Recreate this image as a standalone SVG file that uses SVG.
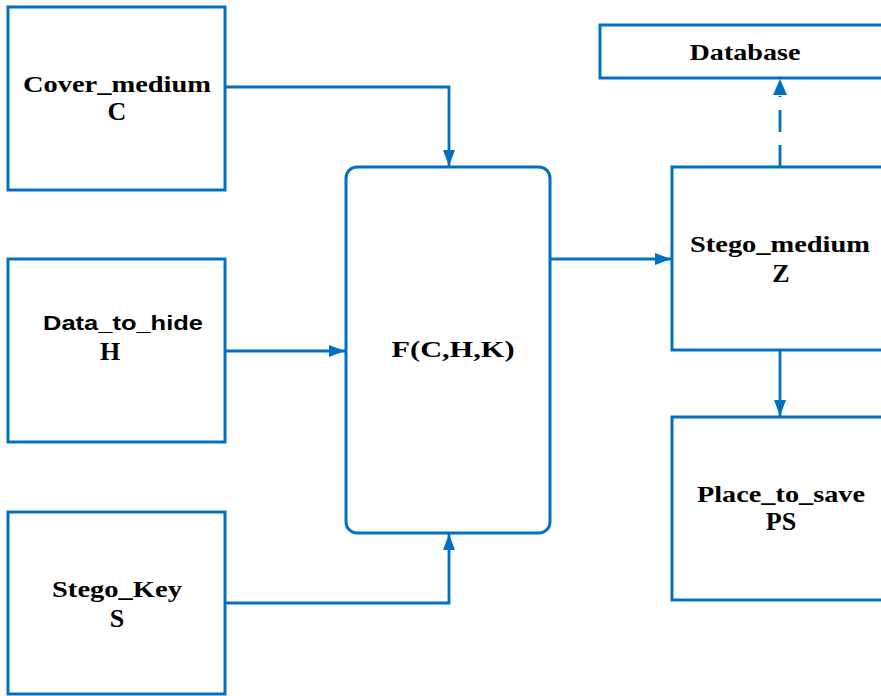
<svg xmlns="http://www.w3.org/2000/svg" width="881" height="696" viewBox="0 0 881 696">
<style>
.box{fill:#fff;stroke:#0070C0;stroke-width:3}
.con{fill:none;stroke:#0070C0;stroke-width:2.8}
.t{font-family:"Liberation Serif","Times New Roman",serif;font-weight:bold;font-size:24px;fill:#000;text-anchor:middle}
.l{font-size:26px}
.s{font-family:"Liberation Sans",Arial,sans-serif;font-weight:bold;font-size:21px;fill:#000;text-anchor:middle}
</style>
<defs>
<marker id="ah" markerWidth="16" markerHeight="12" refX="16" refY="6" orient="auto" markerUnits="userSpaceOnUse">
<path d="M0,0 L16,6 L0,12 Z" fill="#0070C0"/>
</marker>
</defs>
<rect width="881" height="696" fill="#fff"/>
<g id="connectors">
<path class="con" d="M225,87 H449 V166" marker-end="url(#ah)"/>
<path class="con" d="M225,351 H345" marker-end="url(#ah)"/>
<path class="con" d="M225,603 H449 V534" marker-end="url(#ah)"/>
<path class="con" d="M550,259 H671" marker-end="url(#ah)"/>
<path class="con" d="M780,350 V416" marker-end="url(#ah)"/>
<path class="con" d="M780,167 V96" stroke-dasharray="22,13"/>
<path d="M773,95 L780,79 L787,95 Z" fill="#0070C0"/>
</g>
<g id="cover">
<rect class="box" x="8" y="7" width="217" height="183"/>
<text class="t" x="117" y="92" textLength="188" lengthAdjust="spacingAndGlyphs">Cover_medium</text>
<text class="t l" x="117" y="120">C</text>
</g>
<g id="data">
<rect class="box" x="8" y="259" width="217" height="183"/>
<text class="s" x="123" y="330" textLength="160" lengthAdjust="spacingAndGlyphs">Data_to_hide</text>
<text class="t l" x="110" y="360">H</text>
</g>
<g id="key">
<rect class="box" x="8" y="512" width="217" height="182"/>
<text class="t" x="117" y="597" textLength="130" lengthAdjust="spacingAndGlyphs">Stego_Key</text>
<text class="t l" x="117" y="627">S</text>
</g>
<g id="func">
<rect class="box" x="346" y="167" width="204" height="366" rx="11" ry="11"/>
<text class="t" x="453" y="357" font-size="22" textLength="123" lengthAdjust="spacingAndGlyphs">F(C,H,K)</text>
</g>
<g id="database">
<rect class="box" x="600" y="25" width="300" height="53"/>
<text class="t" x="745" y="60" textLength="111" lengthAdjust="spacingAndGlyphs">Database</text>
</g>
<g id="stego">
<rect class="box" x="672" y="167" width="228" height="183"/>
<text class="t" x="780" y="252" textLength="180" lengthAdjust="spacingAndGlyphs">Stego_medium</text>
<text class="t l" x="781" y="282">Z</text>
</g>
<g id="place">
<rect class="box" x="672" y="417" width="228" height="183"/>
<text class="t" x="781" y="502" textLength="168" lengthAdjust="spacingAndGlyphs">Place_to_save</text>
<text class="t l" x="781" y="530">PS</text>
</g>
</svg>
